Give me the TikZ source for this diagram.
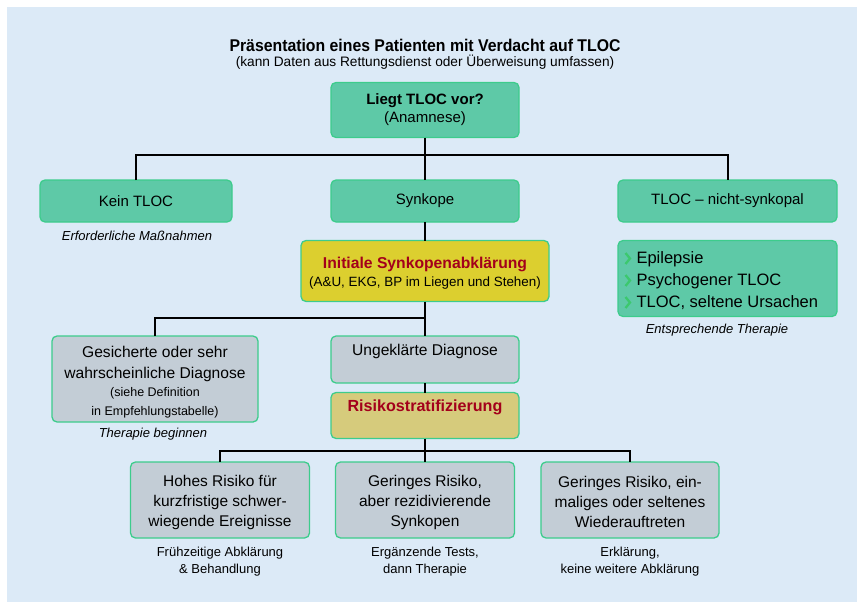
\documentclass[tikz,border=0pt]{standalone}
\usepackage{fontspec}
\setmainfont{Liberation Sans}
\newfontfamily\condfont[FakeStretch=0.93]{Liberation Sans}
\definecolor{bgblue}{HTML}{DCEAF7}
\definecolor{boxgreen}{HTML}{5EC9A7}
\definecolor{edgegreen}{HTML}{3DCC8C}
\definecolor{boxgray}{HTML}{C3CDD6}
\definecolor{boxyellow}{HTML}{DCCF2F}
\definecolor{boxkhaki}{HTML}{D6CB7C}
\definecolor{darkred}{HTML}{A3001B}
\definecolor{chev}{HTML}{3CC86E}
\tikzset{
  every node/.style={inner sep=0pt, outer sep=0pt},
  basebox/.style={draw=edgegreen, line width=1.3pt, rounded corners=5pt, align=center, font=\fontsize{15}{18}\selectfont},
  greenbox/.style={basebox, fill=boxgreen},
  graybox/.style={basebox, fill=boxgray},
  yellowbox/.style={basebox, fill=boxyellow},
  khakibox/.style={basebox, fill=boxkhaki},
  boxtext/.style={align=center, font=\fontsize{15}{18}\selectfont},
  note/.style={align=center, font=\fontsize{13}{17}\selectfont\itshape},
  subnote/.style={align=center, font=\fontsize{13}{17.5}\selectfont},
  conn/.style={line width=2pt, black},
  chevron/.style={draw=chev, line width=2.3pt, line join=miter},
}
\begin{document}
\begin{tikzpicture}[x=1pt,y=-1pt]
\useasboundingbox (0,0) rectangle (857,602);
\fill[white] (0,0) rectangle (857,602);
\fill[bgblue] (7,7) rectangle (857,602);

\node[font=\condfont\bfseries\fontsize{17}{19}\selectfont] (title) at (425,45) {Präsentation eines Patienten mit Verdacht auf TLOC};
\node[font=\fontsize{13.7}{15}\selectfont] (subtitle) at (425,62) {(kann Daten aus Rettungsdienst oder Überweisung umfassen)};

\node[greenbox, minimum width=188pt, minimum height=55pt] (liegt) at (425,110)
  {{\bfseries Liegt TLOC vor?}\\(Anamnese)};

\node[greenbox, minimum width=192pt, minimum height=42pt] (kein) at (136,201) {Kein TLOC};
\node[greenbox, minimum width=188pt, minimum height=42pt] (synk) at (425,201) {Synkope};
\node[greenbox, minimum width=219pt, minimum height=42pt] (nsynk) at (727.5,201) {TLOC -- nicht-synkopal};

\node[note] (erf) at (137,236) {Erforderliche Maßnahmen};

\node[yellowbox, minimum width=248pt, minimum height=61pt] (init) at (425,271) {};
\node[boxtext] (inittext) at (425,273.5)
  {{\color{darkred}\bfseries\fontsize{15.7}{20}\selectfont Initiale Synkopenabklärung}\\
   {\fontsize{13.4}{16}\selectfont (A\&U, EKG, BP im Liegen und Stehen)}};

\node[greenbox, minimum width=219pt, minimum height=76pt] (epi) at (727.5,278.5) {};
\node[anchor=west, align=left, font=\fontsize{16.5}{22}\selectfont] (epitext) at (636.5,281)
  {Epilepsie\\Psychogener TLOC\\TLOC, seltene Ursachen};
\draw[chevron] (625.5,253) -- (630,258.5) -- (625.5,264);
\draw[chevron] (625.5,275) -- (630,280.5) -- (625.5,286);
\draw[chevron] (625.5,297) -- (630,302.5) -- (625.5,308);

\node[note] (entspr) at (717,330) {Entsprechende Therapie};

\node[graybox, minimum width=206pt, minimum height=86pt] (ges) at (155,379) {};
\node[boxtext, font=\fontsize{15.6}{20.5}\selectfont] (gestext) at (155,364)
  {Gesicherte oder sehr\\wahrscheinliche Diagnose};
\node[boxtext, font=\fontsize{12.5}{19}\selectfont] (gestext2) at (155,403)
  {(siehe Definition\\in Empfehlungstabelle)};

\node[note] (ther) at (153,434) {Therapie beginnen};

\node[graybox, minimum width=188pt, minimum height=47pt] (ung) at (425,359.5) {};
\node[boxtext, font=\fontsize{15.6}{18}\selectfont] (ungtext) at (425,351) {Ungeklärte Diagnose};

\node[khakibox, minimum width=188pt, minimum height=46pt] (risk) at (425,415.5) {};
\node[boxtext] (risktext) at (425,407) {\color{darkred}\bfseries\fontsize{16.1}{18}\selectfont Risikostratifizierung};

\node[graybox, minimum width=179pt, minimum height=76pt] (h1) at (220,500) {};
\node[graybox, minimum width=179pt, minimum height=76pt] (h2) at (425,500) {};
\node[graybox, minimum width=178pt, minimum height=76pt] (h3) at (630,500) {};
\node[boxtext, font=\fontsize{15.5}{20}\selectfont] (h1text) at (220,502)
  {Hohes Risiko für\\kurzfristige schwer-\\wiegende Ereignisse};
\node[boxtext, font=\fontsize{15.5}{20}\selectfont] (h2text) at (425,502)
  {Geringes Risiko,\\aber rezidivierende\\Synkopen};
\node[boxtext, font=\fontsize{15.5}{20}\selectfont] (h3text) at (630,502)
  {Geringes Risiko, ein-\\maliges oder seltenes\\Wiederauftreten};

\node[subnote] (n1) at (220,561.5) {Frühzeitige Abklärung\\\& Behandlung};
\node[subnote] (n2) at (425,561.5) {Ergänzende Tests,\\dann Therapie};
\node[subnote] (n3) at (630,561.5) {Erklärung,\\keine weitere Abklärung};

% connectors
\coordinate (j1) at (425,155);
\coordinate (j2) at (425,318);
\coordinate (j3) at (425,451);
\draw[conn] (liegt.south) -- (synk.north);
\draw[conn] (kein.north) |- (j1) -| (nsynk.north);
\draw[conn] (synk.south) -- (init.north);
\draw[conn] (init.south) -- (ung.north);
\draw[conn] (ges.north) |- (j2);
\draw[conn] (ung.south) -- (risk.north);
\draw[conn] (risk.south) -- (h2.north);
\draw[conn] (h1.north) |- (j3) -| (h3.north);
\end{tikzpicture}
\end{document}
